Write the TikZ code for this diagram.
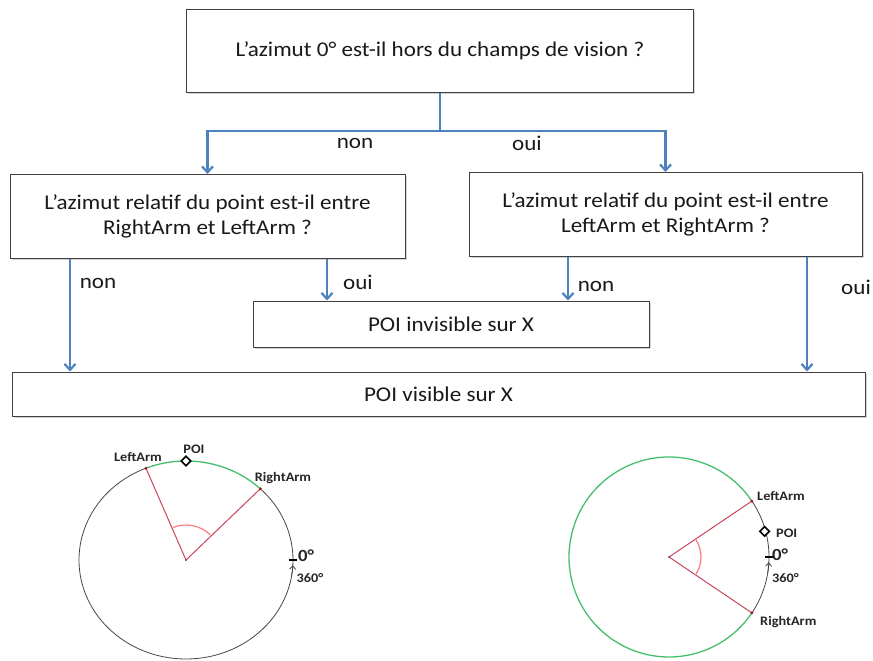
\documentclass[tikz,border=0pt]{standalone}
\usepackage{fontspec}
\setmainfont{Carlito}[FakeStretch=1.1]
\usetikzlibrary{arrows.meta,shadows,shapes.geometric}
\definecolor{flowblue}{RGB}{79,129,189}
\definecolor{armred}{RGB}{200,70,90}
\definecolor{armdark}{RGB}{170,20,30}
\definecolor{anglepink}{RGB}{255,120,130}
\definecolor{arcgreen}{RGB}{70,190,110}
\definecolor{circgray}{RGB}{70,70,70}
\definecolor{txt}{RGB}{25,25,25}
\begin{document}
\begin{tikzpicture}[x=1pt,y=-1pt,
  box/.style={draw=black!75, line width=1pt, fill=white,
    drop shadow={shadow xshift=1.5pt, shadow yshift=-1.5pt, opacity=0.35},
    font=\fontsize{21}{25}\selectfont, text=txt, align=center, inner sep=0pt},
  flow/.style={draw=flowblue, line width=2.2pt},
  arr/.style={flow, -{Straight Barb[length=6pt,width=11pt]}},
  lbl/.style={font=\fontsize{21}{24}\selectfont, text=txt, inner sep=0pt},
  small/.style={font=\fontsize{13}{14}\selectfont\bfseries, inner sep=0pt, text=black!85},
  zero/.style={font=\fontsize{17}{18}\selectfont\bfseries, inner sep=0pt, text=black!85},
  ring/.style={draw=circgray, line width=0.8pt},
  garc/.style={draw=arcgreen, line width=1.3pt},
  arm/.style={draw=armred, line width=1pt},
  angarc/.style={draw=anglepink, line width=1.2pt},
  poi/.style={draw=black, line width=1.6pt, fill=white, shape=diamond, minimum size=10pt, inner sep=0pt},
  tip/.style={circgray, line width=0.8pt, -{Straight Barb[length=3.5pt,width=6pt]}}
]
\useasboundingbox (0,0) rectangle (873,661);

% flowchart boxes
\node[box, minimum width=507pt, minimum height=82pt] (top) at (440,51) {L’azimut 0° est-il hors du champs de vision ?};
\node[box, minimum width=395pt, minimum height=84pt] (left) at (207.5,216.5) {L’azimut relatif du point est-il entre\\RightArm et LeftArm ?};
\node[box, minimum width=393pt, minimum height=84pt] (right) at (665.5,214.5) {L’azimut relatif du point est-il entre\\LeftArm et RightArm ?};
\node[box, minimum width=396pt, minimum height=46pt] (inv) at (451,324) {POI invisible sur X};
\node[box, minimum width=853pt, minimum height=44pt] (vis) at (438.5,394) {POI visible sur X};

% connectors
\coordinate (j) at (440,131);
\draw[flow] (top.south) -- (j);
\draw[arr] (j) -| (left.north);
\draw[arr] (j) -| (right.north);
\coordinate (c1) at (70,0);
\coordinate (c2) at (327,0);
\coordinate (c3) at (568,0);
\coordinate (c4) at (807,0);
\draw[arr] (c1 |- left.south) -- (c1 |- vis.north);
\draw[arr] (c2 |- left.south) -- (c2 |- inv.north);
\draw[arr] (c3 |- right.south) -- (c3 |- inv.north);
\draw[arr] (c4 |- right.south) -- (c4 |- vis.north);

\node[lbl] (t1) at (355,143) {non};
\node[lbl] (t2) at (527,143) {oui};
\node[lbl] (t3) at (98,283) {non};
\node[lbl] (t4) at (358,282) {oui};
\node[lbl] (t5) at (596,286) {non};
\node[lbl] (t6) at (856,287) {oui};

% left circle diagram
\begin{scope}[shift={(186,560)}, y=1pt]
  \coordinate (lc) at (0,0);
  \draw[ring] (46:107 and 99) arc[start angle=46, end angle=-248, x radius=107, y radius=99];
  \draw[garc] (112:107 and 99) arc[start angle=112, end angle=46, x radius=107, y radius=99];
  \coordinate (lla) at (112:107 and 99);
  \coordinate (lra) at (46:107 and 99);
  \draw[arm] (lc) -- (lla);
  \draw[arm] (lc) -- (lra);
  \draw[angarc] (46:35) arc[start angle=46, end angle=112, radius=35];
  \fill[black!70] (lc) circle (1);
  \fill[armdark] (lla) circle (1.6);
  \fill[armdark] (lra) circle (1.6);
  \node[poi] (lpoi) at (90:107 and 99) {};
  \coordinate (lz) at (0:107 and 99);
  \draw[black, line width=1.5pt] ([xshift=-4pt]lz) -- ([xshift=4pt]lz);
  \draw[tip] (-9:107 and 99) arc[start angle=-9, end angle=-3, x radius=107, y radius=99];
\end{scope}
\node[small] (l1) at (138,457) {LeftArm};
\node[small] (l2) at (194,449) {POI};
\node[small] (l3) at (283,478) {RightArm};
\node[zero] (l4) at (306,556) {0°};
\node[small] (l5) at (310,578) {360°};

% right circle diagram
\begin{scope}[shift={(669,557)}, y=1pt]
  \coordinate (rc) at (0,0);
  \draw[ring] (-34:100) arc[start angle=-34, end angle=34, radius=100];
  \draw[garc] (34:100) arc[start angle=34, end angle=326, radius=100];
  \coordinate (rla) at (34:100);
  \coordinate (rra) at (-34:100);
  \draw[arm] (rc) -- (rla);
  \draw[arm] (rc) -- (rra);
  \draw[angarc] (-34:32) arc[start angle=-34, end angle=34, radius=32];
  \fill[black!70] (rc) circle (1);
  \fill[armdark] (rla) circle (1.6);
  \fill[armdark] (rra) circle (1.6);
  \node[poi] (rpoi) at (15:99) {};
  \coordinate (rz) at (0:100);
  \draw[black, line width=1.5pt] ([xshift=-4pt]rz) -- ([xshift=4pt]rz);
  \draw[tip] (-9:100) arc[start angle=-9, end angle=-3, radius=100];
\end{scope}
\node[small, anchor=west] (r1) at (757,496) {LeftArm};
\node[small, anchor=west] (r2) at (776,533) {POI};
\node[zero, anchor=west] (r3) at (772,555) {0°};
\node[small, anchor=west] (r4) at (772,578) {360°};
\node[small, anchor=west] (r5) at (760,622) {RightArm};
\end{tikzpicture}
\end{document}
